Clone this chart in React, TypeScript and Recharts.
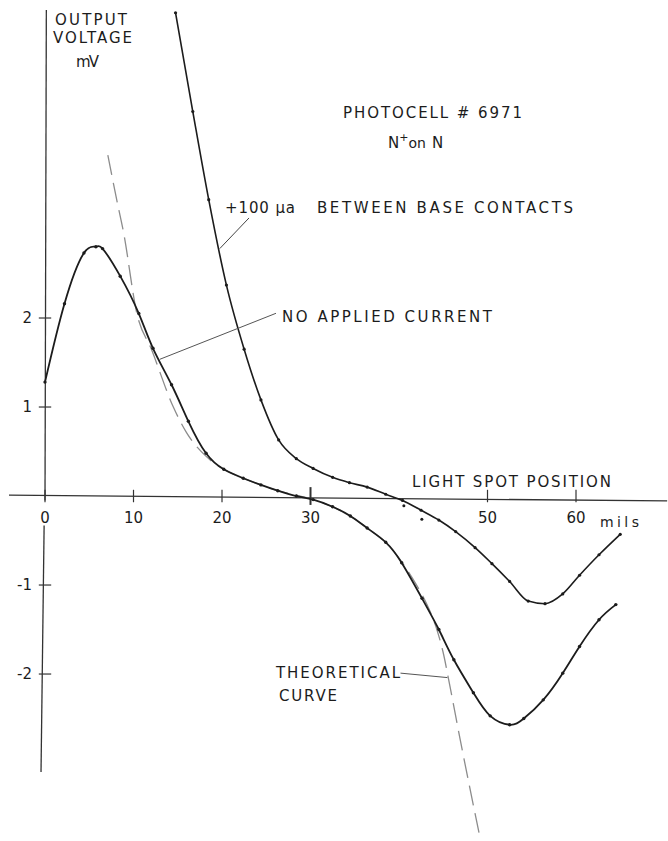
import React from "react";
import {
  ComposedChart,
  Line,
  XAxis,
  YAxis,
  ReferenceLine,
  ReferenceDot,
} from "recharts";

// light spot position (mils) vs output voltage (mV)
const noCurrentX = [0, 2.2, 4.4, 5.75, 6.5, 8.5, 10.6, 12.2, 14.3, 16.2, 18.2, 20.2, 22.4, 24.4, 26.3, 28.4, 30.3, 32.5, 34.5, 36.4, 38.5, 40.3, 42.6, 44.5, 46.2, 48.4, 50.3, 52.5, 54.1, 56.3, 58.5, 60.4, 62.6, 64.5];
const noCurrentY = [1.28, 2.16, 2.73, 2.8, 2.78, 2.47, 2.05, 1.66, 1.25, 0.84, 0.48, 0.3, 0.2, 0.125, 0.06, 0, -0.04, -0.12, -0.225, -0.36, -0.52, -0.75, -1.15, -1.5, -1.84, -2.21, -2.47, -2.57, -2.5, -2.29, -1.99, -1.69, -1.39, -1.22];

const withCurrentX = [14.75, 16.7, 18.5, 20.5, 22.5, 24.4, 26.4, 28.4, 30.3, 32.5, 34.4, 36.4, 38.5, 40.4, 42.5, 44.5, 46.4, 48.6, 50.5, 52.5, 54.6, 56.5, 58.5, 60.4, 62.6, 65.0];
const withCurrentY = [5.43, 4.32, 3.33, 2.37, 1.65, 1.08, 0.63, 0.42, 0.31, 0.21, 0.15, 0.1, 0.02, -0.05, -0.16, -0.27, -0.4, -0.58, -0.76, -0.96, -1.18, -1.21, -1.1, -0.89, -0.66, -0.43];

const theoryX = [7.1, 8.1, 8.88, 10.36, 12.06, 14.5, 16.01, 18.27, 20.2, 22.4, 26.3, 30.3, 34.5, 36.4, 38.5, 40.45, 41.92, 43.16, 44.18, 44.97, 45.76, 46.92, 49.22];
const theoryY = [3.83, 3.33, 2.96, 2.06, 1.64, 1.0, 0.71, 0.44, 0.3, 0.2, 0.06, -0.04, -0.225, -0.36, -0.52, -0.76, -0.99, -1.22, -1.47, -1.75, -2.14, -2.74, -3.87];

const strayX = [40.55, 42.58];
const strayY = [-0.11, -0.26];

const xTicks = [0, 10, 20, 30, 50, 60];
const yTicks = [2, 1, -1, -2];

const X_DOMAIN = [-5.085, 70.395];
const Y_DOMAIN = [-3.876, 5.573];

const ink = "#1c1c1c";
const font = "'DejaVu Sans', sans-serif";

const toPoints = (xs: number[], ys: number[]) => xs.map((x, i) => ({ x, y: ys[i] }));

// text pinned to a data coordinate
function note(
  key: string,
  x: number,
  y: number,
  body: React.ReactNode,
  opts: { anchor?: string; len?: number; size?: number } = {}
) {
  const { anchor = "start", len, size = 15 } = opts;
  return (
    <ReferenceDot
      key={key}
      x={x}
      y={y}
      r={0}
      fill="none"
      stroke="none"
      ifOverflow="visible"
      label={{
        content: (p: any) => (
          <text
            x={p.viewBox.x}
            y={p.viewBox.y}
            textAnchor={anchor}
            dominantBaseline="central"
            fontFamily={font}
            fontSize={size}
            fill={ink}
            textLength={len}
            lengthAdjust={len ? "spacing" : undefined}
          >
            {body}
          </text>
        ),
      }}
    />
  );
}

function seg(key: string, x1: number, y1: number, x2: number, y2: number, w = 1.3, color = "#333") {
  return (
    <ReferenceLine
      key={key}
      segment={[{ x: x1, y: y1 }, { x: x2, y: y2 }]}
      stroke={color}
      strokeWidth={w}
      ifOverflow="visible"
    />
  );
}

export default function App() {
  return (
    <div style={{ position: "absolute", left: 0, top: 0, width: 668, height: 841, background: "#fff" }}>
      <ComposedChart width={668} height={841} margin={{ top: 0, right: 0, bottom: 0, left: 0 }}>
        <XAxis type="number" dataKey="x" domain={X_DOMAIN} hide allowDataOverflow />
        <YAxis type="number" dataKey="y" domain={Y_DOMAIN} hide allowDataOverflow />

        {/* axes */}
        {seg("xaxis", -4.07, 0.01, 70.3, -0.055, 1.3)}
        {seg("yaxis-top", 0.15, 5.46, 0, -0.05, 1.3)}
        {seg("yaxis-bot", -0.1, -0.33, -0.45, -3.1, 1.3)}
        {xTicks.map((t) => seg(`xt${t}`, t, t === 30 ? -0.1 : -0.07, t, t === 30 ? 0.1 : 0.07, t === 30 ? 2 : 1.2))}
        {yTicks.map((t) => seg(`yt${t}`, -0.7, t, 0.7, t, 1.2))}

        <Line
          data={toPoints(theoryX, theoryY)}
          dataKey="y"
          type="monotoneX"
          stroke="#8c8c8c"
          strokeWidth={1.3}
          strokeDasharray="20 8"
          dot={false}
          activeDot={false}
          isAnimationActive={false}
        />
        <Line
          data={toPoints(noCurrentX, noCurrentY)}
          dataKey="y"
          type="natural"
          stroke={ink}
          strokeWidth={1.8}
          dot={{ r: 1.7, fill: ink, strokeWidth: 0 }}
          activeDot={false}
          isAnimationActive={false}
        />
        <Line
          data={toPoints(withCurrentX, withCurrentY)}
          dataKey="y"
          type="monotoneX"
          stroke={ink}
          strokeWidth={1.6}
          dot={{ r: 1.6, fill: ink, strokeWidth: 0 }}
          activeDot={false}
          isAnimationActive={false}
        />
        {strayX.map((x, i) => (
          <ReferenceDot key={`stray${i}`} x={x} y={strayY[i]} r={1.5} fill={ink} stroke="none" />
        ))}

        {/* leader lines */}
        {seg("lead-100", 19.75, 2.78, 23.05, 3.124, 1, "#444")}
        {seg("lead-no", 12.97, 1.536, 26.1, 2.053, 1, "#555")}
        {seg("lead-th", 40.17, -1.99, 45.47, -2.04, 1, "#555")}

        {/* tick labels */}
        {xTicks.map((t) => note(`xl${t}`, t, -0.247, String(t), { anchor: "middle" }))}
        {note("mils", 62.71, -0.292, "mils", { len: 39, size: 14 })}
        {yTicks.map((t) => note(`yl${t}`, -1.47, t, t < 0 ? `-${-t}` : String(t), { anchor: "end" }))}

        {/* labels */}
        {note("out", 1.13, 5.348, "OUTPUT", { len: 72 })}
        {note("volt", 0.904, 5.146, "VOLTAGE", { len: 79 })}
        {note("mv", 3.503, 4.876, "mV", { len: 23 })}
        {note("photo", 33.67, 4.303, "PHOTOCELL  # 6971", { len: 179 })}
        {note(
          "non",
          38.76,
          3.966,
          <>
            <tspan>N</tspan>
            <tspan dy={-6} fontSize={11}>+</tspan>
            <tspan dy={6} fontSize={14}>on</tspan>
            <tspan dx={6}>N</tspan>
          </>
        )}
        {note("p100", 20.34, 3.236, "+100 µa", { len: 70 })}
        {note("between", 30.73, 3.236, "BETWEEN  BASE  CONTACTS", { len: 256 })}
        {note("noapp", 26.78, 2.011, "NO APPLIED CURRENT", { len: 210 })}
        {note("light", 41.47, 0.157, "LIGHT SPOT POSITION", { len: 199 })}
        {note("theo", 26.1, -1.989, "THEORETICAL", { len: 124 })}
        {note("curve", 26.44, -2.247, "CURVE", { len: 58 })}
      </ComposedChart>
    </div>
  );
}
